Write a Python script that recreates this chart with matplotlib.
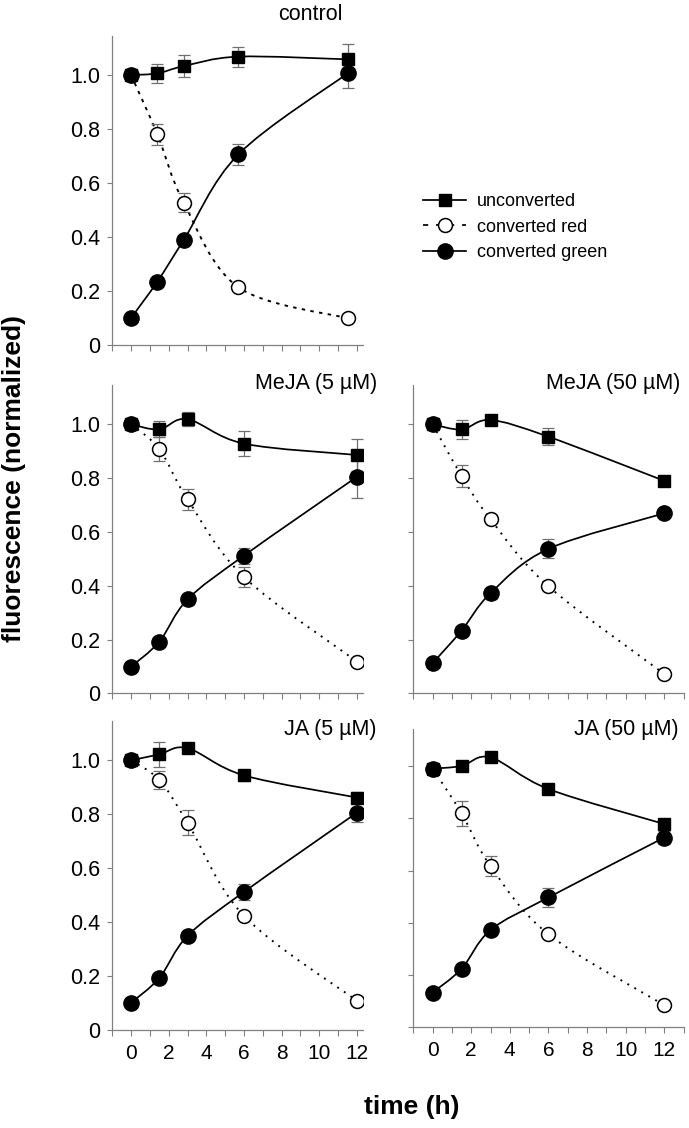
import numpy as np
import matplotlib
matplotlib.use("Agg")
import matplotlib.pyplot as plt
from matplotlib.path import Path
from matplotlib.patches import PathPatch
from matplotlib.lines import Line2D

plt.rcParams['font.family'] = ['Liberation Sans', 'DejaVu Sans']

# ---------------- data ----------------
times_control = [0, 1.4, 2.8, 5.7, 11.5]
times = [0, 1.5, 3, 6, 12]

panel_titles = ["control", "MeJA (5 µM)", "MeJA (50 µM)", "JA (5 µM)", "JA (50 µM)"]

ctrl_unconv = [1.0, 1.006, 1.033, 1.068, 1.058]
ctrl_unconv_err = [0, 0.036, 0.04, 0.037, 0.055]
ctrl_red = [1.0, 0.78, 0.527, 0.214, 0.099]
ctrl_red_err = [0, 0.04, 0.036, 0, 0]
ctrl_green = [0.10, 0.235, 0.389, 0.706, 1.006]
ctrl_green_err = [0, 0, 0, 0.04, 0.055]

meja5_unconv = [1.0, 0.981, 1.019, 0.928, 0.886]
meja5_unconv_err = [0, 0.03, 0.025, 0.046, 0.058]
meja5_red = [1.0, 0.908, 0.721, 0.432, 0.118]
meja5_red_err = [0, 0.045, 0.04, 0.038, 0]
meja5_green = [0.099, 0.192, 0.349, 0.512, 0.805]
meja5_green_err = [0, 0, 0.02, 0.03, 0.08]

meja50_unconv = [1.0, 0.981, 1.016, 0.954, 0.79]
meja50_unconv_err = [0, 0.034, 0.01, 0.031, 0.012]
meja50_red = [1.0, 0.808, 0.647, 0.398, 0.072]
meja50_red_err = [0, 0.04, 0.015, 0.015, 0]
meja50_green = [0.112, 0.233, 0.372, 0.537, 0.669]
meja50_green_err = [0, 0.01, 0.02, 0.035, 0.015]

ja5_unconv = [1.0, 1.022, 1.045, 0.944, 0.862]
ja5_unconv_err = [0, 0.045, 0.015, 0.02, 0.02]
ja5_red = [1.0, 0.927, 0.769, 0.423, 0.108]
ja5_red_err = [0, 0.033, 0.046, 0, 0]
ja5_green = [0.101, 0.193, 0.349, 0.512, 0.806]
ja5_green_err = [0, 0, 0, 0.03, 0.035]

ja50_unconv = [0.99, 1.0, 1.033, 0.912, 0.778]
ja50_unconv_err = [0, 0, 0.012, 0, 0.02]
ja50_red = [0.99, 0.819, 0.617, 0.356, 0.085]
ja50_red_err = [0, 0.048, 0.037, 0, 0]
ja50_green = [0.133, 0.224, 0.372, 0.497, 0.726]
ja50_green_err = [0, 0.02, 0.02, 0.036, 0.025]

legend_labels = ["unconverted", "converted red", "converted green"]
ytick_vals = [0, 0.2, 0.4, 0.6, 0.8, 1.0]
ytick_labels = ["0", "0.2", "0.4", "0.6", "0.8", "1.0"]
xtick_label_vals = [0, 2, 4, 6, 8, 10, 12]

# ---------------- layout ----------------
W, H = 689, 1128
fig = plt.figure(figsize=(W / 100, H / 100), dpi=100)

def frac_box(left_px, bottom_px, width_px, height_px):
    return [left_px / W, 1 - bottom_px / H, width_px / W, height_px / H]

# (left px, axis-bottom px, px per hour, xmax, px per unit y, ymax)
panels = [
    dict(box=(112.2, 345.0, 18.83, 12.3, 270.0, 1.145), title=(343, 15), xl=False, yl=True),
    dict(box=(112.2, 693.3, 18.83, 12.3, 269.0, 1.146), title=(377, 383), xl=False, yl=True),
    dict(box=(413.3, 693.3, 19.3, 13.0, 269.0, 1.146), title=(680, 383), xl=False, yl=False),
    dict(box=(112.2, 1030.0, 18.83, 12.3, 269.7, 1.147), title=(376, 729), xl=True, yl=True),
    dict(box=(413.3, 1027.3, 19.3, 13.0, 261.3, 1.14), title=(679, 730), xl=True, yl=False),
]

series = [
    (times_control, ctrl_unconv, ctrl_unconv_err, ctrl_red, ctrl_red_err, ctrl_green, ctrl_green_err),
    (times, meja5_unconv, meja5_unconv_err, meja5_red, meja5_red_err, meja5_green, meja5_green_err),
    (times, meja50_unconv, meja50_unconv_err, meja50_red, meja50_red_err, meja50_green, meja50_green_err),
    (times, ja5_unconv, ja5_unconv_err, ja5_red, ja5_red_err, ja5_green, ja5_green_err),
    (times, ja50_unconv, ja50_unconv_err, ja50_red, ja50_red_err, ja50_green, ja50_green_err),
]

SPINE = '#808080'
ERRC = '#707070'
LW = 1.25


def smooth_path(x, y):
    pts = np.column_stack([np.asarray(x, float), np.asarray(y, float)])
    n = len(pts)
    verts = [pts[0]]
    codes = [Path.MOVETO]
    for i in range(n - 1):
        p0 = pts[i - 1] if i > 0 else pts[i]
        p1 = pts[i]
        p2 = pts[i + 1]
        p3 = pts[i + 2] if i + 2 < n else pts[i + 1]
        c1 = p1 + (p2 - p0) / 6.0
        c2 = p2 - (p3 - p1) / 6.0
        verts += [c1, c2, p2]
        codes += [Path.CURVE4] * 3
    return Path(verts, codes)


for k, (p, s) in enumerate(zip(panels, series)):
    left, axb, pxh, xmax, pxy, ymax = p['box']
    xmin = -1
    wpx = (xmax - xmin) * pxh
    hpx = ymax * pxy
    ax = fig.add_axes(frac_box(left, axb, wpx, hpx))
    t, un, une, rd, rde, gr, gre = s

    red_ls = (0, (1.8, 2.8)) if k == 0 else (0, (1.0, 3.2))

    # lines
    ax.add_patch(PathPatch(smooth_path(t, un), fill=False, lw=LW, ec='black', zorder=2))
    ax.add_patch(PathPatch(smooth_path(t, rd), fill=False, lw=LW * 1.1, ec='black', ls=red_ls, zorder=2))
    ax.add_patch(PathPatch(smooth_path(t, gr), fill=False, lw=LW, ec='black', zorder=2))

    # error bars
    for yy, ee in ((un, une), (rd, rde), (gr, gre)):
        ax.errorbar(t, yy, yerr=ee, fmt='none', ecolor=ERRC, elinewidth=0.9,
                    capsize=4.2, capthick=0.9, zorder=3)

    # markers
    ax.plot(t, un, ls='none', marker='s', ms=8.6, mfc='black', mec='black', zorder=4)
    ax.plot(t, rd, ls='none', marker='o', ms=10.0, mfc='white', mec='black', mew=1.1, zorder=5)
    ax.plot(t[:1], rd[:1], ls='none', marker='o', ms=11.0, mfc='black', mec='black', zorder=6)
    ax.plot(t, gr, ls='none', marker='o', ms=11.0, mfc='black', mec='black', zorder=6)

    ax.set_xlim(xmin, xmax)
    ax.set_ylim(0, ymax)
    for sp in ('top', 'right'):
        ax.spines[sp].set_visible(False)
    for sp in ('left', 'bottom'):
        ax.spines[sp].set_color(SPINE)
        ax.spines[sp].set_linewidth(0.9)

    ax.set_xticks(np.arange(xmin, int(np.floor(xmax)) + 1))
    ax.set_xticklabels([str(int(v)) if (v in xtick_label_vals and p['xl']) else ''
                        for v in np.arange(xmin, int(np.floor(xmax)) + 1)])
    ax.set_yticks(ytick_vals)
    ax.set_yticklabels(ytick_labels if p['yl'] else [''] * len(ytick_vals))
    ax.tick_params(axis='x', direction='out', length=4, width=0.8, color=SPINE,
                   labelsize=15, pad=6)
    ax.tick_params(axis='y', direction='out', length=3.5, width=0.8, color=SPINE,
                   labelsize=15.5, pad=5)

    tx, ty = p['title']
    fig.text(tx / W, 1 - ty / H, panel_titles[k], ha='right', va='center', fontsize=15.5)

# legend
handles = [
    Line2D([], [], color='black', lw=LW, marker='s', ms=8.6, mfc='black'),
    Line2D([], [], color='black', lw=LW, ls=(0, (3.0, 4.5)), marker='o', ms=10.0,
           mfc='white', mec='black', mew=1.1),
    Line2D([], [], color='black', lw=LW, marker='o', ms=11.0, mfc='black'),
]
fig.legend(handles, legend_labels, loc='upper left',
           bbox_to_anchor=(423 / W, 1 - 193 / H), frameon=False, fontsize=13,
           handlelength=2.4, handletextpad=0.6, labelspacing=0.48,
           borderpad=0, borderaxespad=0)

fig.text(14 / W, 1 - 478 / H, "fluorescence (normalized)", rotation=90,
         ha='center', va='center', fontsize=19, fontweight='bold')
fig.text(411.5 / W, 1 - 1107 / H, "time (h)", ha='center', va='center',
         fontsize=19, fontweight='bold')

fig.savefig("out.png", dpi=100)
